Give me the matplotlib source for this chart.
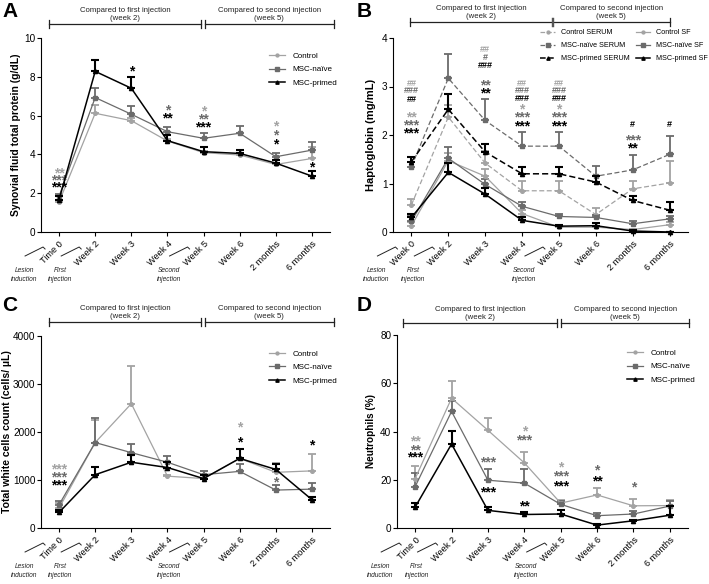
import numpy as np
import matplotlib
matplotlib.use('Agg')
import matplotlib.pyplot as plt
from matplotlib.lines import Line2D
from matplotlib.transforms import offset_copy

plt.rcParams['font.family'] = ['Liberation Sans', 'DejaVu Sans']

LIGHT = '#a3a3a3'
MID = '#6b6b6b'
DARK = '#000000'

# ---------------- data ----------------
labels_time = ['Time 0', 'Week 2', 'Week 3', 'Week 4', 'Week 5', 'Week 6', '2 months', '6 months']
labels_week = ['Week 0', 'Week 2', 'Week 3', 'Week 4', 'Week 5', 'Week 6', '2 months', '6 months']

# A - synovial fluid total protein (g/dL)
prot_ctrl = [1.55, 6.12, 5.74, 4.69, 4.09, 3.97, 3.48, 3.79]
prot_ctrl_err = [0.1, 0.45, 0.15, 0.08, 0.1, 0.08, 0.1, 0.6]
prot_naive = [1.84, 6.93, 6.07, 5.17, 4.83, 5.09, 3.88, 4.22]
prot_naive_err = [0.1, 0.48, 0.4, 0.26, 0.26, 0.39, 0.21, 0.43]
prot_primed = [1.67, 8.28, 7.41, 4.71, 4.14, 4.05, 3.55, 2.88]
prot_primed_err = [0.2, 0.6, 0.6, 0.3, 0.22, 0.17, 0.15, 0.28]
prot_stars = [(0, 3.19, '**', LIGHT), (0, 2.81, '***', MID), (0, 2.45, '***', DARK),
              (2, 8.45, '*', DARK),
              (3, 6.43, '*', MID), (3, 6.0, '**', DARK),
              (4, 6.38, '*', LIGHT), (4, 5.98, '**', MID), (4, 5.55, '***', DARK),
              (6, 5.6, '*', LIGHT), (6, 5.14, '*', MID), (6, 4.69, '*', DARK),
              (7, 3.5, '*', DARK)]

# B - haptoglobin (mg/mL)
hp_ctrl_serum = [0.56, 2.37, 1.42, 0.85, 0.85, 0.36, 0.89, 1.01]
hp_ctrl_serum_err = [0.13, 0.24, 0.24, 0.21, 0.21, 0.14, 0.17, 0.45]
hp_naive_serum = [1.35, 3.17, 2.30, 1.77, 1.77, 1.15, 1.28, 1.60]
hp_naive_serum_err = [0.2, 0.51, 0.45, 0.3, 0.3, 0.22, 0.3, 0.38]
hp_primed_serum = [1.45, 2.53, 1.65, 1.20, 1.20, 1.03, 0.65, 0.45]
hp_primed_serum_err = [0.1, 0.32, 0.17, 0.15, 0.15, 0.13, 0.1, 0.16]
hp_ctrl_sf = [0.13, 1.47, 1.15, 0.38, 0.10, 0.10, 0.05, 0.15]
hp_ctrl_sf_err = [0.07, 0.15, 0.15, 0.07, 0.03, 0.03, 0.02, 0.05]
hp_naive_sf = [0.22, 1.52, 0.98, 0.53, 0.32, 0.30, 0.17, 0.27]
hp_naive_sf_err = [0.13, 0.24, 0.12, 0.09, 0.06, 0.05, 0.05, 0.06]
hp_primed_sf = [0.30, 1.23, 0.78, 0.24, 0.12, 0.13, 0.02, 0.0]
hp_primed_sf_err = [0.08, 0.2, 0.12, 0.06, 0.03, 0.06, 0.02, 0.01]
hp_stars = [(0, 3.07, '##', LIGHT), (0, 2.91, '###', MID), (0, 2.74, '##', DARK),
            (0, 2.42, '**', LIGHT), (0, 2.26, '***', MID), (0, 2.09, '***', DARK),
            (2, 3.76, '##', LIGHT), (2, 3.60, '#', MID), (2, 3.44, '###', DARK),
            (2, 3.09, '**', MID), (2, 2.91, '**', DARK),
            (3, 3.07, '##', LIGHT), (3, 2.91, '###', MID), (3, 2.75, '###', DARK),
            (3, 2.58, '*', LIGHT), (3, 2.42, '***', MID), (3, 2.23, '***', DARK),
            (4, 3.07, '##', LIGHT), (4, 2.91, '###', MID), (4, 2.75, '###', DARK),
            (4, 2.58, '*', LIGHT), (4, 2.42, '***', MID), (4, 2.23, '***', DARK),
            (6, 2.21, '#', DARK), (6, 1.94, '***', MID), (6, 1.78, '**', DARK),
            (7, 2.21, '#', DARK)]

# C - total white cells count (cells/uL)
wbc_ctrl = [415, 1780, 2590, 1080, 1030, 1450, 1160, 1190]
wbc_ctrl_err = [100, 470, 790, 15, 160, 200, 200, 350]
wbc_naive = [485, 1780, 1570, 1370, 1110, 1180, 790, 810]
wbc_naive_err = [70, 520, 180, 120, 70, 150, 100, 120]
wbc_primed = [325, 1110, 1370, 1260, 1030, 1450, 1220, 590]
wbc_primed_err = [55, 170, 160, 120, 80, 190, 120, 60]
wbc_stars = [(0, 1280, '***', LIGHT), (0, 1120, '***', MID), (0, 955, '***', DARK),
             (5, 2160, '*', LIGHT), (5, 1855, '*', DARK),
             (6, 1017, '*', MID),
             (7, 1780, '*', DARK)]

# D - neutrophils (%)
neu_ctrl = [20.5, 53.8, 40.5, 27.0, 10.3, 13.7, 9.2, 9.3]
neu_ctrl_err = [5.0, 7.2, 5.1, 4.7, 1.2, 3.0, 2.9, 2.2]
neu_naive = [17.2, 48.3, 19.8, 18.6, 9.8, 5.1, 5.8, 9.1]
neu_naive_err = [5.8, 4.2, 4.5, 5.7, 1.2, 1.1, 1.1, 1.9]
neu_primed = [8.7, 34.8, 7.3, 5.6, 5.8, 1.2, 3.0, 5.3]
neu_primed_err = [1.5, 5.3, 1.5, 1.0, 1.5, 0.3, 0.4, 3.9]
neu_stars = [(0, 37.0, '**', LIGHT), (0, 33.5, '**', MID), (0, 30.3, '***', DARK),
             (2, 28.3, '***', MID), (2, 15.9, '***', DARK),
             (3, 41.1, '*', LIGHT), (3, 37.5, '***', MID), (3, 10.2, '**', DARK),
             (4, 26.5, '*', LIGHT), (4, 22.5, '***', MID), (4, 18.6, '***', DARK),
             (5, 25.1, '*', MID), (5, 20.7, '**', DARK),
             (6, 17.9, '*', MID)]

x = np.arange(8)

STYLES = {
    'ctrl': dict(color=LIGHT, marker='o', ms=2.6, lw=0.9),
    'naive': dict(color=MID, marker='s', ms=2.8, lw=0.9),
    'primed': dict(color=DARK, marker='^', ms=3.0, lw=1.1),
}


def series(ax, y, err, kind, ls='-', z=2):
    st = STYLES[kind]
    ax.errorbar(x, y, yerr=[np.zeros(len(err)), err], color=st['color'], marker=st['marker'],
                linestyle=ls, linewidth=st['lw'], markersize=st['ms'],
                elinewidth=st['lw'] + 0.4, capsize=2.6, capthick=st['lw'] + 0.4,
                zorder=z, clip_on=False,
                dashes=(4, 2) if ls == '--' else (None, None))


def handle(kind, ls='-'):
    st = STYLES[kind]
    return Line2D([], [], color=st['color'], marker=st['marker'], markersize=st['ms'] * 0.8,
                  linewidth=st['lw'], linestyle=ls)


def stars(ax, items, hash_size=6.5):
    for xi, yv, s, c in items:
        if '#' in s:
            ax.annotate(s, (xi, yv), xytext=(0, 0), textcoords='offset points', color=c,
                        ha='center', va='center', fontsize=hash_size, fontweight='bold')
        else:
            ax.annotate(s, (xi, yv), xytext=(0, -2.2), textcoords='offset points', color=c,
                        ha='center', va='center', fontsize=10, fontweight='bold')


def style_axes(ax, ymax, ystep, ylabel, xlabels, ylabel_size=7.6, labelpad=2):
    ax.set_xlim(-0.5, 7.5)
    ax.set_ylim(0, ymax)
    ax.set_yticks(np.arange(0, ymax + ystep / 2, ystep))
    ax.set_xticks(x)
    ax.set_xticklabels(xlabels, rotation=45, ha='right', rotation_mode='anchor', fontsize=6.6)
    ax.tick_params(axis='x', length=3, width=0.8, pad=2)
    ax.tick_params(axis='y', length=3, width=0.8, labelsize=7.2, pad=1)
    for side in ('top', 'right'):
        ax.spines[side].set_visible(False)
    for side in ('left', 'bottom'):
        ax.spines[side].set_linewidth(0.8)
    ax.set_ylabel(ylabel, fontsize=ylabel_size, fontweight='bold', labelpad=labelpad)

    # event notes under the axis
    fig = ax.figure
    tr = ax.get_xaxis_transform()
    notes = [(0, 'Lesion\ninduction'), (1, 'First\ninjection'), (4, 'Second\ninjection')]
    for xi, txt in notes:
        pts = []
        for dx, dy in ((-34, -24), (-16, -15), (-14, -17)):
            t = offset_copy(tr, fig=fig, x=dx, y=dy, units='dots')
            pts.append(ax.transData.inverted().transform(t.transform((xi, 0))))
        ax.plot([p[0] for p in pts], [p[1] for p in pts], color='#222222', lw=0.7,
                clip_on=False)
        tt = offset_copy(tr, fig=fig, x=-35, y=-43, units='dots')
        ax.text(xi, 0, txt, transform=tt, ha='center', va='center', fontsize=4.8,
                style='italic', color='#222222', linespacing=1.5)


def bracket(ax, left, right, yb, split_mark=False):
    tr = ax.get_xaxis_transform()
    h = 0.022
    kw = dict(color='#222222', lw=0.9, transform=tr, clip_on=False)
    if split_mark:
        ax.plot([left[0], right[1]], [yb, yb], **kw)
        for xe in (left[0], right[1]):
            ax.plot([xe, xe], [yb - h, yb + h], **kw)
        for xe in (left[1] - 0.02, left[1] + 0.02):
            ax.plot([xe, xe], [yb - h, yb + h], color='#555555', lw=1.0, transform=tr,
                    clip_on=False)
    else:
        for a, b in (left, right):
            ax.plot([a, b], [yb, yb], **kw)
            for xe in (a, b):
                ax.plot([xe, xe], [yb - h, yb + h], **kw)
    centers = [(left[0] + left[1]) / 2, (right[0] + right[1]) / 2]
    texts = ['Compared to first injection\n(week 2)', 'Compared to second injection\n(week 5)']
    for c, t in zip(centers, texts):
        ax.text(c, yb + 0.01, t, transform=tr, ha='center', va='bottom', fontsize=5.6,
                color='#222222', linespacing=1.3)


fig = plt.figure(figsize=(7.09, 5.84), dpi=100)
W, H = 709, 584


def px_axes(l, t, r, b):
    return fig.add_axes([l / W, 1 - b / H, (r - l) / W, (b - t) / H])


axA = px_axes(41, 38, 330, 232)
axB = px_axes(393, 38, 688, 232)
axC = px_axes(41, 336, 330, 528)
axD = px_axes(397, 335, 688, 528)

three_labels = ['Control', 'MSC-naïve', 'MSC-primed']
three_handles = [handle('ctrl'), handle('naive'), handle('primed')]
leg3 = dict(loc='upper right', bbox_to_anchor=(1.05, 0.965), frameon=False, fontsize=5.8,
            handlelength=2.0, labelspacing=0.75, handletextpad=0.9)

# ---- A ----
series(axA, prot_ctrl, prot_ctrl_err, 'ctrl')
series(axA, prot_naive, prot_naive_err, 'naive')
series(axA, prot_primed, prot_primed_err, 'primed', z=3)
stars(axA, prot_stars)
style_axes(axA, 10, 2, 'Synovial fluid total protein (g/dL)', labels_time, ylabel_size=7.5)
bracket(axA, (-0.28, 3.94), (4.03, 7.61), 1.072)
axA.legend(three_handles, three_labels, **leg3)

# ---- B ----
series(axB, hp_ctrl_serum, hp_ctrl_serum_err, 'ctrl', ls='--')
series(axB, hp_naive_serum, hp_naive_serum_err, 'naive', ls='--')
series(axB, hp_primed_serum, hp_primed_serum_err, 'primed', ls='--', z=3)
series(axB, hp_ctrl_sf, hp_ctrl_sf_err, 'ctrl')
series(axB, hp_naive_sf, hp_naive_sf_err, 'naive')
series(axB, hp_primed_sf, hp_primed_sf_err, 'primed', z=3)
stars(axB, hp_stars)
style_axes(axB, 4, 1, 'Haptoglobin (mg/mL)', labels_week, ylabel_size=8.0, labelpad=4)
bracket(axB, (-0.05, 3.83), (3.83, 7.0), 1.082, split_mark=True)
b_handles = [handle('ctrl', '--'), handle('naive', '--'), handle('primed', '--'),
             handle('ctrl'), handle('naive'), handle('primed')]
b_labels = ['Control SERUM', 'MSC-naïve SERUM', 'MSC-primed SERUM',
            'Control SF', 'MSC-naïve SF', 'MSC-primed SF']
axB.legend(b_handles, b_labels, loc='upper right', bbox_to_anchor=(1.09, 1.08), frameon=False,
           fontsize=5.2, ncol=2, handlelength=2.0, labelspacing=0.85, handletextpad=0.8,
           columnspacing=0.9)

# ---- C ----
series(axC, wbc_ctrl, wbc_ctrl_err, 'ctrl')
series(axC, wbc_naive, wbc_naive_err, 'naive')
series(axC, wbc_primed, wbc_primed_err, 'primed', z=3)
stars(axC, wbc_stars)
style_axes(axC, 4000, 1000, 'Total white cells count (cells/ µL)', labels_time,
           ylabel_size=7.6, labelpad=0.5)
bracket(axC, (-0.28, 3.94), (4.03, 7.61), 1.073)
axC.legend(three_handles, three_labels, **leg3)

# ---- D ----
series(axD, neu_ctrl, neu_ctrl_err, 'ctrl')
series(axD, neu_naive, neu_naive_err, 'naive')
series(axD, neu_primed, neu_primed_err, 'primed', z=3)
stars(axD, neu_stars)
style_axes(axD, 80, 20, 'Neutrophils (%)', labels_time, ylabel_size=7.2, labelpad=3)
bracket(axD, (-0.33, 3.9), (4.0, 7.54), 1.062)
axD.legend(three_handles, three_labels, **leg3)

# panel letters
for letter, (px, py) in zip('ABCD', [(2, 2), (357, 2), (2, 296), (357, 296)]):
    fig.text(px / W, 1 - py / H, letter, fontsize=15, fontweight='bold', ha='left', va='top')

fig.savefig('out.png', dpi=100)
